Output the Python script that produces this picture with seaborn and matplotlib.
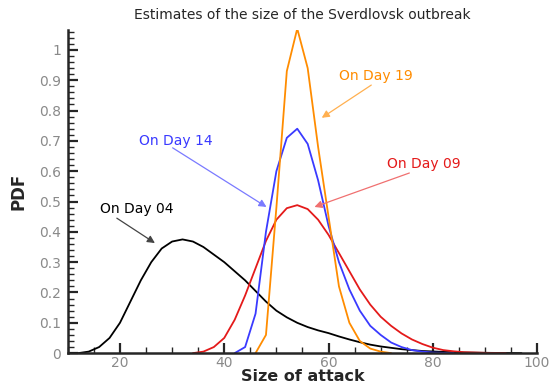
import numpy as np
import pandas as pd
import matplotlib
matplotlib.use("Agg")
import matplotlib.pyplot as plt
import seaborn as sns
from matplotlib.ticker import MultipleLocator

# Data
day04_x = [10, 12, 14, 16, 18, 20, 22, 24, 26, 28, 30, 32, 34, 36, 38, 40, 42, 44, 46, 48,
           50, 52, 54, 56, 58, 60, 62, 64, 66, 68, 70, 74, 78, 82, 86, 90, 97]
day04_y = [0.0, 0.0, 0.005, 0.02, 0.05, 0.1, 0.17, 0.24, 0.3, 0.345, 0.368, 0.375, 0.368,
           0.35, 0.325, 0.3, 0.27, 0.24, 0.205, 0.17, 0.14, 0.118, 0.1, 0.086, 0.075,
           0.066, 0.055, 0.045, 0.036, 0.028, 0.022, 0.013, 0.007, 0.004, 0.002, 0.001, 0.0]

day09_x = [34, 36, 38, 40, 42, 44, 46, 48, 50, 52, 54, 56, 58, 60, 62, 64, 66, 68, 70,
           72, 74, 76, 78, 80, 82, 84, 86, 90, 94]
day09_y = [0.0, 0.005, 0.02, 0.05, 0.11, 0.19, 0.28, 0.37, 0.44, 0.478, 0.488, 0.475,
           0.44, 0.39, 0.33, 0.27, 0.21, 0.16, 0.12, 0.09, 0.065, 0.045, 0.03, 0.018,
           0.01, 0.006, 0.003, 0.001, 0.0]

day14_x = [42, 44, 46, 48, 50, 52, 54, 56, 58, 60, 62, 64, 66, 68, 70, 72, 74, 76, 78, 80, 84]
day14_y = [0.0, 0.02, 0.13, 0.4, 0.6, 0.71, 0.74, 0.69, 0.57, 0.42, 0.3, 0.21, 0.14,
           0.09, 0.06, 0.035, 0.02, 0.01, 0.005, 0.002, 0.0]

day19_x = [46, 48, 50, 52, 54, 56, 58, 60, 62, 64, 66, 68, 70, 72]
day19_y = [0.0, 0.06, 0.48, 0.93, 1.07, 0.94, 0.68, 0.45, 0.22, 0.1, 0.04, 0.015, 0.005, 0.0]

labels = ["On Day 04", "On Day 09", "On Day 14", "On Day 19"]
colors = ["black", "#e41a1a", "#3a3aff", "#ff8c00"]

frames = []
for lab, xs, ys in zip(labels, [day04_x, day09_x, day14_x, day19_x],
                       [day04_y, day09_y, day14_y, day19_y]):
    frames.append(pd.DataFrame({"size": xs, "pdf": ys, "day": lab}))
df = pd.concat(frames, ignore_index=True)

sns.set_style("ticks")
plt.rcParams["font.family"] = ["DejaVu Sans"]

fig = plt.figure(figsize=(5.56, 3.83), dpi=100)
ax = fig.add_axes([0.122, 0.078, 0.844, 0.844])

sns.lineplot(data=df, x="size", y="pdf", hue="day", palette=colors,
             hue_order=labels, lw=1.3, legend=False, ax=ax, sort=False)

ax.set_xlim(10, 100)
ax.set_ylim(0, 1.066)
ax.xaxis.set_major_locator(MultipleLocator(20))
ax.xaxis.set_minor_locator(MultipleLocator(5))
ax.yaxis.set_minor_locator(MultipleLocator(0.02))
ax.set_yticks(np.arange(0, 1.05, 0.1))
ax.set_yticklabels(["0"] + ["%.1f" % v for v in np.arange(0.1, 0.95, 0.1)] + ["1"])

for s in ["top", "right"]:
    ax.spines[s].set_visible(False)
ax.spines["left"].set_linewidth(1.8)
ax.spines["bottom"].set_linewidth(1.8)
ax.tick_params(which="major", direction="in", length=7, width=1.6,
               labelcolor="#8a8a8a", labelsize=10, pad=5)
ax.tick_params(axis="x", which="major", pad=2)
ax.tick_params(which="minor", direction="in", length=4, width=1.0)

ax.set_xlabel("Size of attack", fontsize=11.5, fontweight="bold", labelpad=-1)
ax.set_ylabel("PDF", fontsize=12, fontweight="bold", labelpad=8)
ax.set_title("Estimates of the size of the Sverdlovsk outbreak", fontsize=10, pad=8)

# annotations: label, text pos, arrow tail, arrow head, colour
notes = [
    ("On Day 04", (16.1, 0.475), (19.4, 0.445), (26.7, 0.363), "black", "#444444"),
    ("On Day 14", (23.6, 0.70), (30.1, 0.677), (48.1, 0.482), "#3a3aff", "#7a7aff"),
    ("On Day 19", (62.1, 0.914), (68.2, 0.884), (58.7, 0.776), "#ff8c00", "#ffb050"),
    ("On Day 09", (71.3, 0.624), (75.5, 0.594), (57.3, 0.482), "#e41a1a", "#f07070"),
]
for txt, tpos, tail, head, tc, ac in notes:
    ax.text(tpos[0], tpos[1], txt, color=tc, fontsize=10, va="center", ha="left")
    ax.annotate("", xy=head, xytext=tail,
                arrowprops=dict(arrowstyle="-|>", color=ac, lw=0.9,
                                mutation_scale=11, shrinkA=0, shrinkB=0))

fig.savefig("out.png", dpi=100)
